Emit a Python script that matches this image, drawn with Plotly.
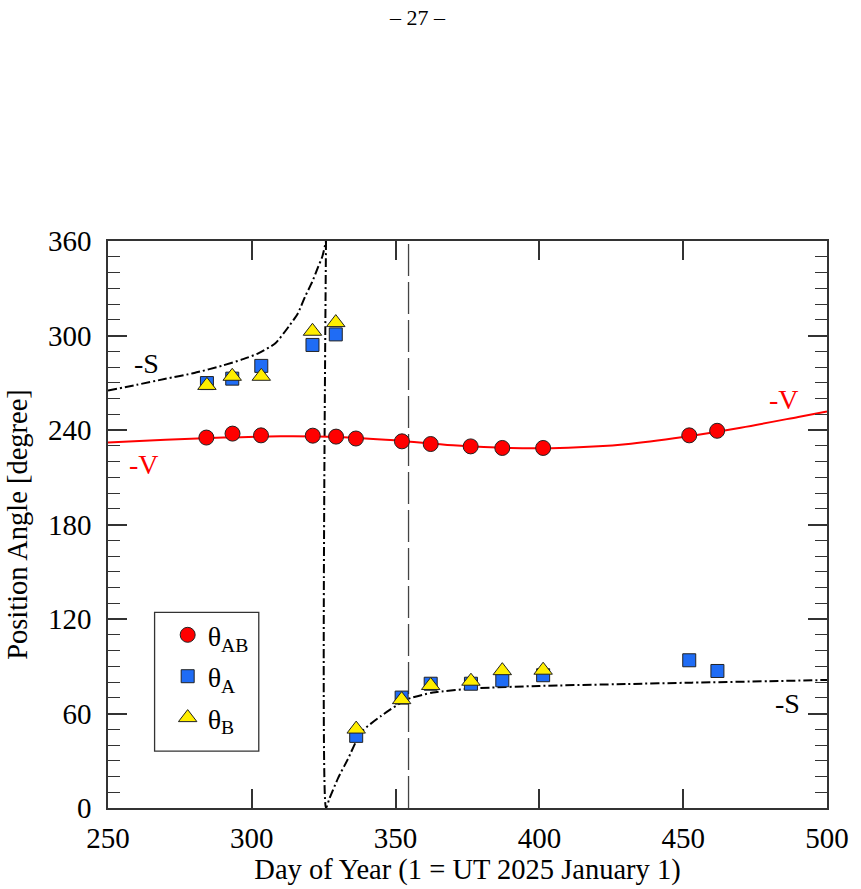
import plotly.graph_objects as go

# --- data ---
day_AB = [284.2, 293.3, 303.2, 321.2, 329.3, 336.2, 352.2, 362.2, 376.1, 387.1, 401.3, 452.1, 461.8]
theta_AB = [235.2, 237.7, 236.6, 236.4, 235.8, 234.6, 232.8, 231.1, 229.6, 228.6, 228.6, 236.6, 239.5]

day_A = [284.4, 293.2, 303.3, 321.1, 329.2, 336.3, 352.1, 362.2, 376.2, 387.1, 401.3, 452.1, 461.9]
theta_A = [269.8, 272.6, 280.7, 294.0, 300.7, 45.8, 70.1, 78.9, 78.9, 81.1, 84.3, 93.8, 87.0]

day_B = [284.4, 293.2, 303.3, 321.1, 329.2, 336.3, 352.1, 362.2, 376.2, 387.1, 401.3]
theta_B = [268.3, 274.1, 274.1, 302.7, 308.2, 50.1, 68.8, 77.8, 80.5, 87.2, 87.5]

# anti-velocity direction (-V)
v_day = [250, 270, 290, 310, 330, 350, 370, 390, 410, 430, 450, 470, 490, 500]
v_theta = [232.1, 233.8, 235.2, 236.0, 235.6, 233.4, 230.3, 228.6, 228.8, 231.0, 235.6, 241.5, 248.3, 251.8]

# anti-solar direction (-S): branch before and after the wrap at 360 -> 0
s_day_upper = [250, 260, 270, 280, 290, 297, 302.4, 308.2, 312.8, 316, 318.5, 321, 323.1, 324.5, 325.8]
s_theta_upper = [265, 268.7, 272.5, 276.2, 281.0, 285.0, 288.8, 295.1, 305.6, 314, 324.6, 334, 343.7, 350, 360]
s_day_lower = [325.8, 325.8, 327, 330, 333.4, 338, 345, 354, 363, 378, 400, 430, 453, 480, 500]
s_theta_lower = [360, 0, 6, 19, 31, 48, 58.5, 69, 73.3, 76, 77.5, 78.7, 79.6, 80.5, 81.3]

perihelion_day = 354.5

x_ticks = [250, 300, 350, 400, 450, 500]
y_ticks = [0, 60, 120, 180, 240, 300, 360]

labels = [
    dict(text="-S", x=263.3, y=282, color="black"),
    dict(text="-V", x=262.4, y=218, color="red"),
    dict(text="-V", x=485.0, y=259.2, color="red"),
    dict(text="-S", x=486.2, y=66.5, color="black"),
]

FONT = "Liberation Serif"
AX = "#333333"
SDASH = dict(color="black", width=2, dash="9px,3px,2px,3px")

fig = go.Figure()

fig.add_trace(go.Scatter(x=s_day_upper, y=s_theta_upper, mode="lines", showlegend=False,
                         line=dict(**SDASH, shape="spline", smoothing=0.6), hoverinfo="skip"))
fig.add_trace(go.Scatter(x=s_day_lower, y=s_theta_lower, mode="lines", showlegend=False,
                         line=dict(**SDASH, shape="spline", smoothing=0.6), hoverinfo="skip"))
fig.add_trace(go.Scatter(x=[perihelion_day, perihelion_day], y=[0, 360], mode="lines", showlegend=False,
                         line=dict(color="#444444", width=1.3, dash="32px,6px"), hoverinfo="skip"))
fig.add_trace(go.Scatter(x=v_day, y=v_theta, mode="lines", showlegend=False,
                         line=dict(color="red", width=2, shape="spline"), hoverinfo="skip"))

fig.add_trace(go.Scatter(x=day_AB, y=theta_AB, mode="markers", name="θ<sub>AB</sub>", legendgroup="ab",
                         marker=dict(symbol="circle", size=15, color="#ff0000", line=dict(color="#222", width=1))))
fig.add_trace(go.Scatter(x=day_A, y=theta_A, mode="markers", name="θ<sub>A</sub>", legendgroup="a",
                         marker=dict(symbol="square", size=13, color="#1f6cf5", line=dict(color="#222", width=1))))
fig.add_trace(go.Scatter(x=day_B, y=theta_B, mode="markers", name="θ<sub>B</sub>", legendgroup="b",
                         marker=dict(symbol="triangle-up", size=16, color="#ffee00", line=dict(color="#222", width=1))))

annotations = [dict(text=l["text"], x=l["x"], y=l["y"], xref="x", yref="y", showarrow=False,
                    font=dict(family=FONT, size=28, color=l["color"])) for l in labels]
annotations.append(dict(text="– 27 –", x=0.4303, y=1.394, xref="paper", yref="paper", showarrow=False,
                        yanchor="middle", xanchor="center",
                        font=dict(family=FONT, size=22, color="black")))

fig.update_layout(
    width=861, height=889,
    margin=dict(l=108, r=28, t=241, b=80),
    paper_bgcolor="white", plot_bgcolor="white",
    font=dict(family=FONT, size=28, color="black"),
    showlegend=True,
    legend=dict(x=0.083, y=0.349, xanchor="left", yanchor="top", bgcolor="rgba(0,0,0,0)",
                borderwidth=0, font=dict(family=FONT, size=28), tracegroupgap=2, itemsizing="trace"),
    annotations=annotations,
    shapes=[dict(type="rect", xref="paper", yref="paper", x0=0.0648, x1=0.2097, y0=0.1004, y1=0.3451,
                 line=dict(color=AX, width=1.3), fillcolor="rgba(0,0,0,0)")],
    xaxis=dict(range=[250, 500], tickvals=x_ticks, ticks="inside", ticklen=19, tickwidth=1.5, tickcolor=AX,
               showline=True, linecolor=AX, linewidth=1.5, mirror="ticks", showgrid=False, zeroline=False,
               ticklabelstandoff=3,
               title=dict(text="Day of Year (1 = UT 2025 January 1)", font=dict(family=FONT, size=28.5), standoff=4),
               tickfont=dict(family=FONT, size=29)),
    yaxis=dict(range=[0, 360], tickvals=y_ticks, ticks="inside", ticklen=19, tickwidth=1.5, tickcolor=AX,
               minor=dict(dtick=10, ticks="inside", ticklen=12, tickwidth=1.2, tickcolor=AX),
               showline=True, linecolor=AX, linewidth=1.5, mirror="ticks", showgrid=False, zeroline=False,
               ticklabelstandoff=9,
               title=dict(text="Position Angle [degree]", font=dict(family=FONT, size=28.5), standoff=12),
               tickfont=dict(family=FONT, size=29)),
)

fig.write_html("out.html")
